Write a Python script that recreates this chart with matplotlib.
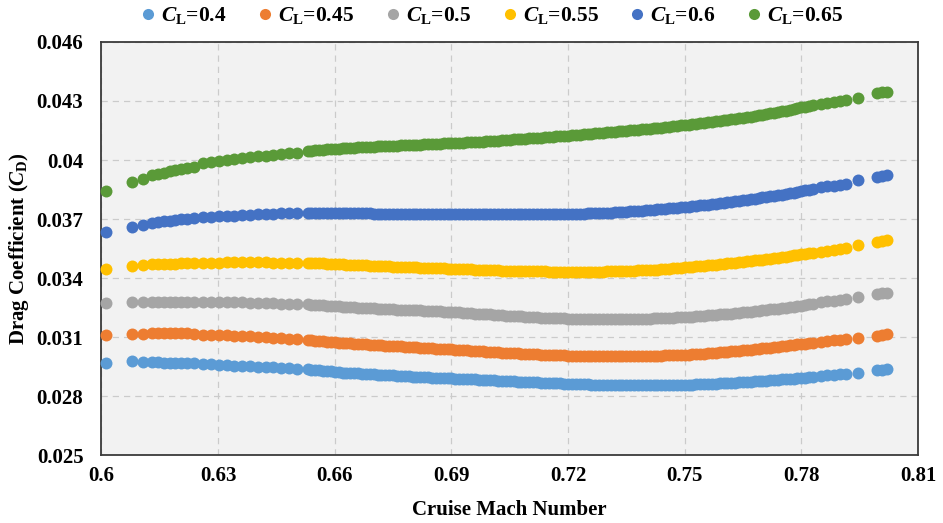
import matplotlib
matplotlib.use("Agg")
import matplotlib.pyplot as plt
from matplotlib.lines import Line2D

plt.rcParams["font.family"] = ["Liberation Serif", "DejaVu Serif"]
plt.rcParams["font.weight"] = "bold"
plt.rcParams["mathtext.fontset"] = "custom"
plt.rcParams["mathtext.it"] = "Liberation Serif:italic:bold"
plt.rcParams["mathtext.rm"] = "Liberation Serif:bold"
plt.rcParams["mathtext.bf"] = "Liberation Serif:bold"

# Cruise Mach numbers of the evaluated design points
mach = [
    0.6012, 0.6078, 0.6108, 0.6130, 0.6145, 0.6160, 0.6175, 0.6190, 0.6205, 0.6220, 0.6237,
    0.6262, 0.6282, 0.6302, 0.6322, 0.6342, 0.6362, 0.6382, 0.6402, 0.6422, 0.6442, 0.6462, 0.6482, 0.6502,
    0.653, 0.654, 0.655, 0.656, 0.657, 0.658, 0.659, 0.660, 0.661, 0.662,
    0.663, 0.664, 0.665, 0.666, 0.667, 0.668, 0.669, 0.670, 0.671, 0.672,
    0.673, 0.674, 0.675, 0.676, 0.677, 0.678, 0.679, 0.680, 0.681, 0.682,
    0.683, 0.684, 0.685, 0.686, 0.687, 0.688, 0.689, 0.690, 0.691, 0.692,
    0.693, 0.694, 0.695, 0.696, 0.697, 0.698, 0.699, 0.700, 0.701, 0.702,
    0.703, 0.704, 0.705, 0.706, 0.707, 0.708, 0.709, 0.710, 0.711, 0.712,
    0.713, 0.714, 0.715, 0.716, 0.717, 0.718, 0.719, 0.720, 0.721, 0.722,
    0.723, 0.724, 0.725, 0.726, 0.727, 0.728, 0.729, 0.730, 0.731, 0.732,
    0.733, 0.734, 0.735, 0.736, 0.737, 0.738, 0.739, 0.740, 0.741, 0.742,
    0.743, 0.744, 0.745, 0.746, 0.747, 0.748, 0.749, 0.750, 0.751, 0.752,
    0.753, 0.754, 0.755, 0.756, 0.757, 0.758, 0.759, 0.760, 0.761, 0.762,
    0.763, 0.764, 0.765, 0.766, 0.767, 0.768, 0.769, 0.770, 0.771, 0.772,
    0.773, 0.774, 0.775, 0.776, 0.777, 0.778, 0.779, 0.780, 0.781, 0.782,
    0.783,
    0.7850, 0.7867, 0.7884, 0.7900, 0.7916, 0.7946, 0.7995, 0.8008, 0.8021,
]

cd_cl040 = [
    0.02968, 0.02978, 0.02975, 0.02972, 0.02971, 0.02970, 0.02970, 0.02969, 0.02969, 0.02968, 0.02967,
    0.02963, 0.02961, 0.02959, 0.02957, 0.02955, 0.02953, 0.02951, 0.02949, 0.02947, 0.02945, 0.02943, 0.02940, 0.02938,
    0.029360, 0.029340, 0.029320, 0.029300, 0.029280, 0.029265, 0.029250, 0.029230, 0.029210, 0.029195,
    0.029180, 0.029170, 0.029160, 0.029150, 0.029140, 0.029125, 0.029110, 0.029100, 0.029090, 0.029080,
    0.029070, 0.029060, 0.029050, 0.029035, 0.029020, 0.029010, 0.029000, 0.028990, 0.028980, 0.028970,
    0.028960, 0.028950, 0.028940, 0.028930, 0.028920, 0.028915, 0.028910, 0.028900, 0.028890, 0.028880,
    0.028870, 0.028860, 0.028850, 0.028840, 0.028830, 0.028820, 0.028810, 0.028800, 0.028790, 0.028780,
    0.028770, 0.028760, 0.028750, 0.028740, 0.028730, 0.028725, 0.028720, 0.028710, 0.028700, 0.028690,
    0.028680, 0.028670, 0.028660, 0.028655, 0.028650, 0.028640, 0.028630, 0.028625, 0.028620, 0.028610,
    0.028600, 0.028595, 0.028590, 0.028585, 0.028580, 0.028575, 0.028570, 0.028570, 0.028570, 0.028565,
    0.028560, 0.028560, 0.028560, 0.028555, 0.028550, 0.028550, 0.028550, 0.028550, 0.028550, 0.028550,
    0.028550, 0.028555, 0.028560, 0.028560, 0.028560, 0.028565, 0.028570, 0.028575, 0.028580, 0.028585,
    0.028590, 0.028600, 0.028610, 0.028615, 0.028620, 0.028630, 0.028640, 0.028650, 0.028660, 0.028670,
    0.028680, 0.028690, 0.028700, 0.028715, 0.028730, 0.028740, 0.028750, 0.028765, 0.028780, 0.028795,
    0.028810, 0.028825, 0.028840, 0.028855, 0.028870, 0.028890, 0.028910, 0.028925, 0.028940, 0.028960,
    0.028980,
    0.02902, 0.02905, 0.02908, 0.02911, 0.02913, 0.02918, 0.02932, 0.02934, 0.02936,
]

cd_cl045 = [
    0.03110, 0.03115, 0.03117, 0.03119, 0.03119, 0.03119, 0.03119, 0.03119, 0.03118, 0.03118, 0.03117,
    0.03112, 0.03111, 0.03110, 0.03108, 0.03107, 0.03105, 0.03103, 0.03101, 0.03099, 0.03097, 0.03094, 0.03091, 0.03088,
    0.030850, 0.030835, 0.030820, 0.030800, 0.030780, 0.030765, 0.030750, 0.030735, 0.030720, 0.030705,
    0.030690, 0.030675, 0.030660, 0.030650, 0.030640, 0.030625, 0.030610, 0.030600, 0.030590, 0.030575,
    0.030560, 0.030550, 0.030540, 0.030530, 0.030520, 0.030505, 0.030490, 0.030480, 0.030470, 0.030460,
    0.030450, 0.030440, 0.030430, 0.030415, 0.030400, 0.030390, 0.030380, 0.030365, 0.030350, 0.030340,
    0.030330, 0.030320, 0.030310, 0.030295, 0.030280, 0.030270, 0.030260, 0.030245, 0.030230, 0.030220,
    0.030210, 0.030200, 0.030190, 0.030180, 0.030170, 0.030160, 0.030150, 0.030140, 0.030130, 0.030120,
    0.030110, 0.030100, 0.030090, 0.030085, 0.030080, 0.030070, 0.030060, 0.030055, 0.030050, 0.030045,
    0.030040, 0.030040, 0.030040, 0.030035, 0.030030, 0.030030, 0.030030, 0.030030, 0.030030, 0.030030,
    0.030030, 0.030030, 0.030030, 0.030035, 0.030040, 0.030040, 0.030040, 0.030045, 0.030050, 0.030050,
    0.030050, 0.030055, 0.030060, 0.030070, 0.030080, 0.030090, 0.030100, 0.030105, 0.030110, 0.030120,
    0.030130, 0.030145, 0.030160, 0.030175, 0.030190, 0.030205, 0.030220, 0.030235, 0.030250, 0.030265,
    0.030280, 0.030300, 0.030320, 0.030340, 0.030360, 0.030380, 0.030400, 0.030420, 0.030440, 0.030460,
    0.030480, 0.030500, 0.030520, 0.030545, 0.030570, 0.030595, 0.030620, 0.030640, 0.030660, 0.030685,
    0.030710,
    0.03077, 0.03080, 0.03083, 0.03086, 0.03089, 0.03093, 0.03105, 0.03110, 0.03114,
]

cd_cl050 = [
    0.03271, 0.03276, 0.03278, 0.03279, 0.03279, 0.03280, 0.03280, 0.03280, 0.03280, 0.03280, 0.03280,
    0.03280, 0.03279, 0.03279, 0.03278, 0.03277, 0.03276, 0.03275, 0.03274, 0.03273, 0.03271, 0.03270, 0.03268, 0.03267,
    0.032660, 0.032645, 0.032630, 0.032620, 0.032610, 0.032595, 0.032580, 0.032570, 0.032560, 0.032545,
    0.032530, 0.032520, 0.032510, 0.032500, 0.032490, 0.032475, 0.032460, 0.032450, 0.032440, 0.032430,
    0.032420, 0.032410, 0.032400, 0.032395, 0.032390, 0.032380, 0.032370, 0.032365, 0.032360, 0.032350,
    0.032340, 0.032330, 0.032320, 0.032310, 0.032300, 0.032290, 0.032280, 0.032270, 0.032260, 0.032250,
    0.032240, 0.032225, 0.032210, 0.032195, 0.032180, 0.032170, 0.032160, 0.032145, 0.032130, 0.032115,
    0.032100, 0.032090, 0.032080, 0.032070, 0.032060, 0.032045, 0.032030, 0.032020, 0.032010, 0.032000,
    0.031990, 0.031985, 0.031980, 0.031970, 0.031960, 0.031955, 0.031950, 0.031940, 0.031930, 0.031925,
    0.031920, 0.031915, 0.031910, 0.031910, 0.031910, 0.031905, 0.031900, 0.031900, 0.031900, 0.031900,
    0.031900, 0.031905, 0.031910, 0.031915, 0.031920, 0.031925, 0.031930, 0.031935, 0.031940, 0.031945,
    0.031950, 0.031960, 0.031970, 0.031980, 0.031990, 0.032000, 0.032010, 0.032020, 0.032030, 0.032040,
    0.032050, 0.032065, 0.032080, 0.032095, 0.032110, 0.032130, 0.032150, 0.032165, 0.032180, 0.032195,
    0.032210, 0.032230, 0.032250, 0.032270, 0.032290, 0.032315, 0.032340, 0.032360, 0.032380, 0.032400,
    0.032420, 0.032445, 0.032470, 0.032495, 0.032520, 0.032545, 0.032570, 0.032600, 0.032630, 0.032655,
    0.032680,
    0.03279, 0.03282, 0.03285, 0.03289, 0.03292, 0.03305, 0.03319, 0.03322, 0.03325,
]

cd_cl055 = [
    0.03446, 0.03461, 0.03466, 0.03469, 0.03470, 0.03471, 0.03472, 0.03473, 0.03474, 0.03475, 0.03475,
    0.03477, 0.03478, 0.03478, 0.03479, 0.03479, 0.03479, 0.03479, 0.03479, 0.03479, 0.03478, 0.03478, 0.03478, 0.03478,
    0.034780, 0.034770, 0.034760, 0.034750, 0.034740, 0.034730, 0.034720, 0.034710, 0.034700, 0.034690,
    0.034680, 0.034670, 0.034660, 0.034655, 0.034650, 0.034640, 0.034630, 0.034625, 0.034620, 0.034610,
    0.034600, 0.034590, 0.034580, 0.034575, 0.034570, 0.034560, 0.034550, 0.034545, 0.034540, 0.034530,
    0.034520, 0.034515, 0.034510, 0.034500, 0.034490, 0.034485, 0.034480, 0.034470, 0.034460, 0.034455,
    0.034450, 0.034445, 0.034440, 0.034430, 0.034420, 0.034415, 0.034410, 0.034400, 0.034390, 0.034385,
    0.034380, 0.034375, 0.034370, 0.034365, 0.034360, 0.034355, 0.034350, 0.034350, 0.034350, 0.034345,
    0.034340, 0.034335, 0.034330, 0.034330, 0.034330, 0.034325, 0.034320, 0.034320, 0.034320, 0.034320,
    0.034320, 0.034320, 0.034320, 0.034325, 0.034330, 0.034330, 0.034330, 0.034335, 0.034340, 0.034340,
    0.034340, 0.034350, 0.034360, 0.034370, 0.034380, 0.034390, 0.034400, 0.034405, 0.034410, 0.034420,
    0.034430, 0.034445, 0.034460, 0.034475, 0.034490, 0.034510, 0.034530, 0.034545, 0.034560, 0.034575,
    0.034590, 0.034610, 0.034630, 0.034650, 0.034670, 0.034685, 0.034700, 0.034720, 0.034740, 0.034760,
    0.034780, 0.034800, 0.034820, 0.034845, 0.034870, 0.034895, 0.034920, 0.034940, 0.034960, 0.034985,
    0.035010, 0.035035, 0.035060, 0.035090, 0.035120, 0.035145, 0.035170, 0.035200, 0.035230, 0.035255,
    0.035280,
    0.03534, 0.03538, 0.03542, 0.03547, 0.03551, 0.03568, 0.03585, 0.03589, 0.03593,
]

cd_cl060 = [
    0.03632, 0.03658, 0.03670, 0.03681, 0.03685, 0.03688, 0.03692, 0.03695, 0.03698, 0.03701, 0.03704,
    0.03709, 0.03711, 0.03713, 0.03715, 0.03717, 0.03719, 0.03721, 0.03723, 0.03725, 0.03727, 0.03729, 0.03730, 0.03732,
    0.037320, 0.037315, 0.037310, 0.037310, 0.037310, 0.037305, 0.037300, 0.037300, 0.037300, 0.037295,
    0.037290, 0.037290, 0.037290, 0.037285, 0.037280, 0.037280, 0.037280, 0.037275, 0.037270, 0.037270,
    0.037270, 0.037270, 0.037270, 0.037265, 0.037260, 0.037260, 0.037260, 0.037260, 0.037260, 0.037260,
    0.037260, 0.037260, 0.037260, 0.037255, 0.037250, 0.037250, 0.037250, 0.037250, 0.037250, 0.037250,
    0.037250, 0.037250, 0.037250, 0.037245, 0.037240, 0.037240, 0.037240, 0.037240, 0.037240, 0.037240,
    0.037240, 0.037240, 0.037240, 0.037240, 0.037240, 0.037240, 0.037240, 0.037240, 0.037240, 0.037240,
    0.037240, 0.037240, 0.037240, 0.037245, 0.037250, 0.037255, 0.037260, 0.037260, 0.037260, 0.037265,
    0.037270, 0.037275, 0.037280, 0.037290, 0.037300, 0.037305, 0.037310, 0.037320, 0.037330, 0.037335,
    0.037340, 0.037355, 0.037370, 0.037385, 0.037400, 0.037415, 0.037430, 0.037445, 0.037460, 0.037475,
    0.037490, 0.037505, 0.037520, 0.037540, 0.037560, 0.037580, 0.037600, 0.037615, 0.037630, 0.037650,
    0.037670, 0.037690, 0.037710, 0.037735, 0.037760, 0.037785, 0.037810, 0.037830, 0.037850, 0.037875,
    0.037900, 0.037925, 0.037950, 0.037980, 0.038010, 0.038040, 0.038070, 0.038095, 0.038120, 0.038150,
    0.038180, 0.038210, 0.038240, 0.038275, 0.038310, 0.038345, 0.038380, 0.038415, 0.038450, 0.038485,
    0.038520,
    0.03861, 0.03866, 0.03870, 0.03874, 0.03878, 0.03898, 0.03915, 0.03920, 0.03924,
]

cd_cl065 = [
    0.03844, 0.03890, 0.03902, 0.03924, 0.03930, 0.03936, 0.03942, 0.03948, 0.03953, 0.03958, 0.03963,
    0.03983, 0.03989, 0.03994, 0.03999, 0.04004, 0.04009, 0.04013, 0.04018, 0.04022, 0.04026, 0.04030, 0.04034, 0.04037,
    0.040460, 0.040480, 0.040500, 0.040515, 0.040530, 0.040545, 0.040560, 0.040570, 0.040580, 0.040595,
    0.040610, 0.040620, 0.040630, 0.040640, 0.040650, 0.040660, 0.040670, 0.040680, 0.040690, 0.040700,
    0.040710, 0.040720, 0.040730, 0.040735, 0.040740, 0.040750, 0.040760, 0.040765, 0.040770, 0.040780,
    0.040790, 0.040800, 0.040810, 0.040820, 0.040830, 0.040840, 0.040850, 0.040855, 0.040860, 0.040870,
    0.040880, 0.040890, 0.040900, 0.040915, 0.040930, 0.040940, 0.040950, 0.040965, 0.040980, 0.040990,
    0.041000, 0.041015, 0.041030, 0.041045, 0.041060, 0.041070, 0.041080, 0.041095, 0.041110, 0.041125,
    0.041140, 0.041155, 0.041170, 0.041185, 0.041200, 0.041215, 0.041230, 0.041245, 0.041260, 0.041275,
    0.041290, 0.041305, 0.041320, 0.041335, 0.041350, 0.041370, 0.041390, 0.041405, 0.041420, 0.041435,
    0.041450, 0.041470, 0.041490, 0.041505, 0.041520, 0.041540, 0.041560, 0.041575, 0.041590, 0.041610,
    0.041630, 0.041650, 0.041670, 0.041690, 0.041710, 0.041735, 0.041760, 0.041780, 0.041800, 0.041820,
    0.041840, 0.041865, 0.041890, 0.041915, 0.041940, 0.041965, 0.041990, 0.042015, 0.042040, 0.042065,
    0.042090, 0.042120, 0.042150, 0.042180, 0.042210, 0.042240, 0.042270, 0.042300, 0.042330, 0.042365,
    0.042400, 0.042435, 0.042470, 0.042510, 0.042550, 0.042590, 0.042630, 0.042670, 0.042710, 0.042755,
    0.042800,
    0.04287, 0.04291, 0.04295, 0.04299, 0.04303, 0.04314, 0.04340, 0.04344, 0.04348,
]

series_labels = ["0.4", "0.45", "0.5", "0.55", "0.6", "0.65"]
series_values = [cd_cl040, cd_cl045, cd_cl050, cd_cl055, cd_cl060, cd_cl065]
series_colors = ["#5B9BD5", "#ED7D31", "#A5A5A5", "#FFC000", "#4472C4", "#5A9A38"]

x_ticks = [0.6, 0.63, 0.66, 0.69, 0.72, 0.75, 0.78, 0.81]
x_tick_labels = ["0.6", "0.63", "0.66", "0.69", "0.72", "0.75", "0.78", "0.81"]
y_ticks = [0.025, 0.028, 0.031, 0.034, 0.037, 0.04, 0.043, 0.046]
y_tick_labels = ["0.025", "0.028", "0.031", "0.034", "0.037", "0.04", "0.043", "0.046"]

fig = plt.figure(figsize=(9.43, 5.23), dpi=100)
ax = fig.add_axes([0.1076, 0.130, 0.8659, 0.7897])
ax.set_facecolor("#F2F2F2")

for vals, col in zip(series_values, series_colors):
    ax.plot(mach, vals, linestyle="none", marker="o", markersize=8.6,
            markeredgewidth=0, color=col, clip_on=False, zorder=3)

ax.set_xlim(0.6, 0.81)
ax.set_ylim(0.025, 0.046)
ax.set_xticks(x_ticks)
ax.set_xticklabels(x_tick_labels)
ax.set_yticks(y_ticks)
ax.set_yticklabels(y_tick_labels)
ax.tick_params(axis="both", length=0, labelsize=15)
ax.tick_params(axis="x", pad=8)
ax.tick_params(axis="y", pad=13)
for lbl in ax.get_xticklabels() + ax.get_yticklabels():
    lbl.set_fontweight("bold")

ax.grid(True, color="#CBCBCB", linestyle=(0, (5, 4)), linewidth=0.9, zorder=0)
ax.set_axisbelow(True)
for side in ["left", "bottom", "right", "top"]:
    ax.spines[side].set_color("#3A3A3A")
    ax.spines[side].set_linewidth(1.3)

ax.set_xlabel("Cruise Mach Number", fontsize=15, fontweight="bold", labelpad=10)
ax.set_ylabel(r"Drag Coefficient ($C_{\mathrm{D}}$)", fontsize=15,
              fontweight="bold", labelpad=4)

handles = [Line2D([], [], linestyle="none", marker="o", markersize=8,
                  markeredgewidth=0, color=c) for c in series_colors]
texts = [r"$C_{\mathrm{L}}$=" + s for s in series_labels]
fig.legend(handles, texts, loc="upper center", bbox_to_anchor=(0.52, 1.015),
           ncol=6, frameon=False, handletextpad=0.1,
           columnspacing=1.3, handlelength=1.0, borderaxespad=0.2,
           prop={"weight": "bold", "size": 15.5})

fig.savefig("out.png", dpi=100)
